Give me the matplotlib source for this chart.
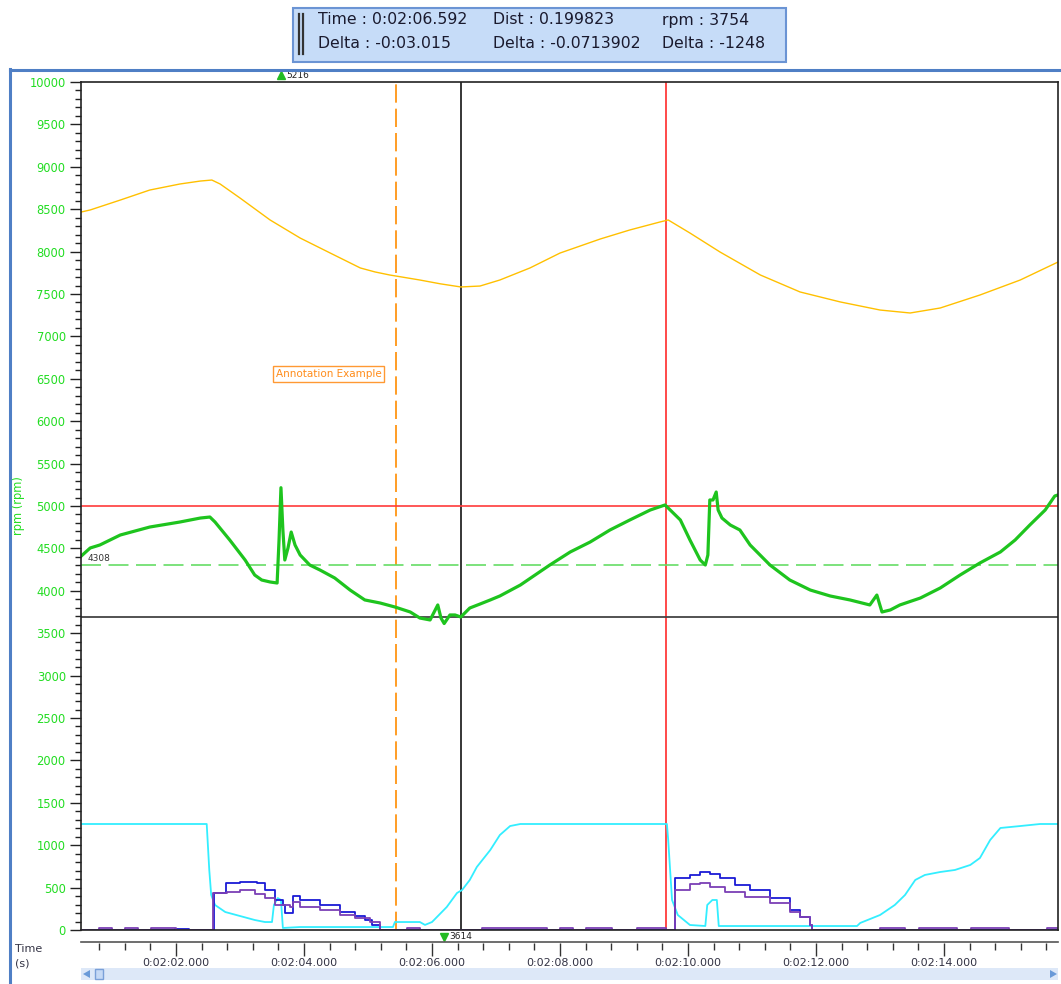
import numpy as np
import matplotlib
matplotlib.use('Agg')
import matplotlib.pyplot as plt
from matplotlib.patches import Rectangle, Polygon
from matplotlib.ticker import MultipleLocator, FuncFormatter

# ---- data (time in s, values in rpm) ----
rpm_t = [120.52, 120.66, 120.81, 121.13, 121.59, 122.06, 122.38, 122.53, 122.61, 122.84,
         123.08, 123.23, 123.34, 123.47, 123.58, 123.61, 123.64, 123.67, 123.70, 123.75,
         123.80, 123.86, 123.94, 124.09, 124.25, 124.48, 124.72, 124.95, 125.19, 125.42,
         125.66, 125.81, 125.97, 126.09, 126.14, 126.19, 126.28, 126.36, 126.45, 126.59,
         126.75, 126.91, 127.06, 127.38, 127.61, 127.84, 128.16, 128.47, 128.78, 129.09,
         129.41, 129.64, 129.69, 129.88, 130.03, 130.19, 130.27, 130.31, 130.34, 130.39,
         130.44, 130.47, 130.53, 130.66, 130.81, 130.97, 131.28, 131.59, 131.91, 132.22,
         132.53, 132.84, 132.95, 133.03, 133.16, 133.31, 133.63, 133.94, 134.25, 134.56,
         134.88, 135.11, 135.34, 135.58, 135.73, 135.78]
rpm_v = [4410, 4505, 4540, 4658, 4752, 4811, 4858, 4870, 4811, 4599,
         4363, 4186, 4127, 4104, 4092, 4599, 5216, 4717, 4363, 4505,
         4693, 4540, 4422, 4304, 4245, 4151, 4009, 3892, 3856, 3809,
         3750, 3679, 3656, 3833, 3679, 3614, 3715, 3715, 3691, 3797,
         3844, 3892, 3939, 4068, 4186, 4304, 4458, 4575, 4717, 4835,
         4953, 5012, 4976, 4835, 4599, 4363, 4304, 4422, 5071, 5071,
         5165, 4953, 4858, 4776, 4717, 4540, 4304, 4127, 4009, 3939,
         3892, 3833, 3950, 3750, 3774, 3833, 3915, 4033, 4186, 4328,
         4458, 4599, 4776, 4953, 5118, 5130]

yel_t = [120.52, 120.66, 121.13, 121.59, 122.06, 122.38, 122.56, 122.69, 123.0, 123.47,
         123.94, 124.41, 124.88, 125.11, 125.34, 125.81, 126.13, 126.45, 126.75, 127.06,
         127.53, 128.0, 128.63, 129.09, 129.56, 129.69, 130.03, 130.5, 131.13, 131.75,
         132.38, 133.0, 133.47, 133.94, 134.56, 135.19, 135.78]
yel_v = [8467, 8491, 8608, 8726, 8797, 8832, 8844, 8797, 8632, 8373,
         8160, 7983, 7807, 7760, 7724, 7665, 7620, 7583, 7594, 7665,
         7807, 7983, 8149, 8255, 8349, 8373, 8219, 7995, 7724, 7524,
         7406, 7311, 7276, 7335, 7488, 7665, 7877]

cyan_t = [120.52, 122.48, 122.52, 122.55, 122.61, 122.77, 123.0, 123.23, 123.39, 123.50,
          123.53, 123.59, 123.64, 123.67, 123.94, 125.39, 125.42, 125.81, 125.89, 126.0,
          126.23, 126.39, 126.47, 126.59, 126.70, 126.91, 127.06, 127.22, 127.38, 129.67,
          129.69, 129.75, 129.84, 130.03, 130.27, 130.30, 130.38, 130.45, 130.48, 132.64,
          132.69, 133.0, 133.23, 133.39, 133.55, 133.70, 133.94, 134.17, 134.41, 134.56,
          134.72, 134.88, 135.19, 135.50, 135.78]
cyan_v = [1250, 1250, 708, 413, 295, 212, 165, 118, 94, 94,
          295, 377, 354, 24, 35, 35, 94, 94, 60, 94,
          271, 436, 472, 590, 743, 943, 1120, 1226, 1250, 1250,
          1061, 354, 177, 59, 47, 295, 354, 354, 47, 47,
          83, 177, 295, 413, 590, 649, 684, 708, 767, 849,
          1061, 1203, 1226, 1250, 1250]

blue_t = [120.52, 121.98, 122.20, 122.59, 122.78, 123.0, 123.27, 123.39, 123.55, 123.67,
          123.70, 123.83, 123.94, 124.25, 124.56, 124.80, 124.95, 125.06, 125.19, 129.80,
          130.03, 130.19, 130.34, 130.50, 130.73, 130.97, 131.28, 131.59, 131.75, 131.91,
          131.94, 135.78]
blue_v = [0, 15, 0, 436, 554, 570, 554, 472, 354, 295,
          200, 400, 354, 295, 212, 165, 118, 59, 0, 613,
          649, 684, 660, 613, 531, 472, 377, 236, 153, 59,
          0, 0]

purp_t = [120.52, 120.80, 121.00, 121.20, 121.41, 121.61, 122.00, 122.58, 122.80, 123.0,
          123.23, 123.39, 123.55, 123.67, 123.78, 123.83, 123.94, 124.25, 124.56, 124.80,
          125.03, 125.19, 125.61, 125.81, 126.78, 127.80, 128.00, 128.20, 128.41, 128.81,
          129.20, 129.66, 129.80, 130.03, 130.19, 130.34, 130.58, 130.89, 131.28, 131.59,
          131.75, 131.91, 131.94, 133.00, 133.39, 133.61, 134.20, 134.42, 135.02, 135.61,
          135.78]
purp_v = [0, 18, 0, 18, 0, 18, 0, 436, 448, 472,
          425, 377, 295, 295, 271, 330, 271, 236, 177, 141,
          94, 0, 18, 0, 18, 0, 18, 0, 18, 0,
          18, 0, 472, 542, 554, 507, 448, 389, 318, 212,
          153, 59, 0, 18, 0, 18, 0, 18, 0, 18,
          18]

t_range = (120.516, 135.78)
cursor_ref = 125.44      # orange dashed
cursor_a = 126.45        # black
cursor_b = 129.66        # red
level_red = 5000
level_black = 3691
level_mean = 4308
max_pt = (123.64, 5216)
min_pt = (126.19, 3614)

header = [["Time : 0:02:06.592", "Dist : 0.199823", "rpm : 3754"],
          ["Delta : -0:03.015", "Delta : -0.0713902", "Delta : -1248"]]

W, H = 1061, 984
def fx(px):
    return px / W
def fy(py):
    return 1 - py / H

plt.rcParams['font.family'] = 'DejaVu Sans'
fig = plt.figure(figsize=(W / 100, H / 100), dpi=100)

green_txt = '#22dd22'

# outer frame
fig.add_artist(plt.Line2D([fx(9.5), fx(9.5)], [fy(69), 0], color='#4f7fc5', lw=2.2))
fig.add_artist(plt.Line2D([fx(9.5), 1], [fy(69.5), fy(69.5)], color='#4f7fc5', lw=2.2))

# header box
fig.add_artist(Rectangle((fx(293), fy(62)), fx(786) - fx(293), fy(8) - fy(62),
                         transform=fig.transFigure, facecolor='#c6dcf8',
                         edgecolor='#6b94d4', lw=1.5))
for bx in (298.5, 302.5):
    fig.add_artist(plt.Line2D([fx(bx), fx(bx)], [fy(54), fy(14)], color='#333333', lw=1.6))
col_x = [318, 493, 662]
row_y = [20, 44]
for r, row in enumerate(header):
    for c, s in enumerate(row):
        fig.text(fx(col_x[c]), fy(row_y[r]), s, fontsize=11.3, color='#1a1a2e',
                 va='center', ha='left')

# main axes
ax_w = fx(1058) - fx(81)
ax = fig.add_axes([fx(81), fy(930), ax_w, fy(82) - fy(930)])
ax.set_xlim(*t_range)
ax.set_ylim(0, 10000)

ax.axvline(cursor_ref, color='#ff8c00', lw=1.2, dashes=(11, 3.6))
ax.axvline(cursor_a, color='black', lw=1.1)
ax.axvline(cursor_b, color='#ff2a2a', lw=1.2)
ax.axhline(level_red, color='#ff3b3b', lw=1.2)
ax.axhline(level_black, color='#444444', lw=1.3)
ax.axhline(level_mean, color='#66dd66', lw=1.2, dashes=(12, 4.5))

ax.plot(yel_t, yel_v, color='#ffc000', lw=1.0)
ax.plot(cyan_t, cyan_v, color='#33eeff', lw=1.3)
ax.plot(blue_t, blue_v, color='#1a1ad6', lw=1.3, drawstyle='steps-post')
ax.plot(purp_t, purp_v, color='#7b3fb5', lw=1.3, drawstyle='steps-post')
ax.plot(rpm_t, rpm_v, color='#1ec41e', lw=2.3)

ax.yaxis.set_major_locator(MultipleLocator(500))
ax.yaxis.set_minor_locator(MultipleLocator(100))
ax.tick_params(axis='y', which='major', length=8, width=1, pad=3, labelsize=8.3,
               labelcolor=green_txt, color='#222222')
ax.tick_params(axis='y', which='minor', length=4, width=1, color='#222222')
ax.tick_params(axis='x', which='both', bottom=False, labelbottom=False)
for sp in ax.spines.values():
    sp.set_color('#222222')
    sp.set_linewidth(1.2)
ax.set_ylabel('rpm (rpm)', color=green_txt, fontsize=8.3)
ax.yaxis.set_label_coords((25 - 81) / (1058 - 81), 0.5)

# min / max markers and level label
ax.plot([max_pt[0]], [1.008], marker='^', ms=6, color='#22bb22', clip_on=False,
        transform=ax.get_xaxis_transform())
ax.text(max_pt[0] + 0.09, 1.008, str(max_pt[1]), fontsize=6.5, va='center',
        transform=ax.get_xaxis_transform(), color='#222222')
ax.plot([min_pt[0]], [-0.008], marker='v', ms=6, color='#22bb22', clip_on=False,
        transform=ax.get_xaxis_transform())
ax.text(min_pt[0] + 0.08, -0.008, str(min_pt[1]), fontsize=6.5, va='center',
        transform=ax.get_xaxis_transform(), color='#222222')
ax.text(120.62, level_mean + 75, str(level_mean), fontsize=6.5, va='center', color='#333333')

ax.text(124.39, 6557, 'Annotation Example', fontsize=7.5, color='#ff8c1a', ha='center',
        va='center',
        bbox=dict(boxstyle='square,pad=0.25', facecolor='white', edgecolor='#ff9933', lw=1))

# time axis
ax2 = fig.add_axes([fx(81), fy(943), ax_w, 1 / H])
ax2.set_xlim(*t_range)
ax2.set_ylim(0, 1)
ax2.patch.set_visible(False)
for k in ('left', 'right', 'bottom'):
    ax2.spines[k].set_visible(False)
ax2.spines['top'].set_color('#555555')
ax2.spines['top'].set_linewidth(1.2)
ax2.set_yticks([])
ax2.xaxis.set_major_locator(MultipleLocator(2))
ax2.xaxis.set_minor_locator(MultipleLocator(0.4))

def tfmt(t, pos):
    m = int(t // 60)
    s = t - 60 * m
    return f"0:{m:02d}:{s:06.3f}"

ax2.xaxis.set_major_formatter(FuncFormatter(tfmt))
ax2.tick_params(axis='x', which='major', length=9, width=1, pad=2, labelsize=8,
                color='#333333', labelcolor='#333344')
ax2.tick_params(axis='x', which='minor', length=5, width=1, color='#333333')
fig.text(fx(15), fy(949), 'Time', fontsize=8, va='center', color='#333344')
fig.text(fx(15), fy(963), '(s)', fontsize=8, va='center', color='#333344')

# scrollbar
fig.add_artist(Rectangle((fx(81), fy(980)), fx(1058) - fx(81), fy(968) - fy(980),
                         transform=fig.transFigure, facecolor='#dde8f8', edgecolor='none'))
fig.add_artist(Polygon([[fx(83), fy(974)], [fx(90), fy(970)], [fx(90), fy(978)]],
                       closed=True, transform=fig.transFigure, facecolor='#6a9ad8',
                       edgecolor='none'))
fig.add_artist(Polygon([[fx(1057), fy(974)], [fx(1050), fy(970)], [fx(1050), fy(978)]],
                       closed=True, transform=fig.transFigure, facecolor='#6a9ad8',
                       edgecolor='none'))
fig.add_artist(Rectangle((fx(95), fy(979)), fx(103) - fx(95), fy(969) - fy(979),
                         transform=fig.transFigure, facecolor='#c5d9f5',
                         edgecolor='#7aa0d8', lw=1))

fig.savefig('out.png', dpi=100)
